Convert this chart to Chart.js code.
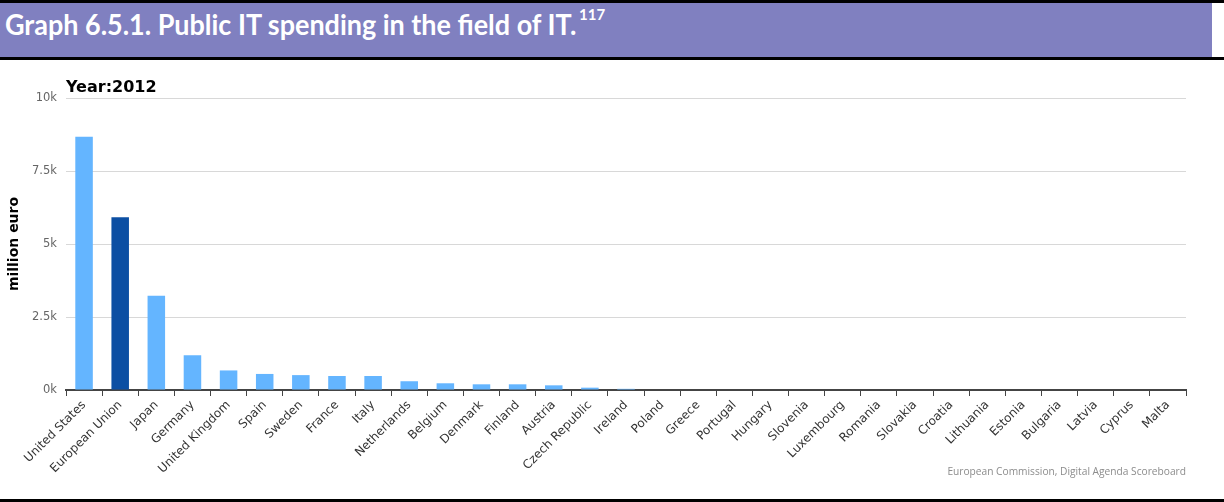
<!DOCTYPE html>
<html>
<head>
<meta charset="utf-8">
<script src="https://cdn.jsdelivr.net/npm/chart.js@4.4.1/dist/chart.umd.min.js"></script>
<style>
  html, body { margin: 0; padding: 0; background: #fff; }
  body { width: 1224px; height: 502px; position: relative; overflow: hidden; }
  #topline { position: absolute; left: 0; top: 0; width: 1224px; height: 3px; background: #000; }
  #band { position: absolute; left: 0; top: 3px; width: 1212px; height: 54px; background: #8080c0; }
  #midline { position: absolute; left: 0; top: 57px; width: 1224px; height: 3px; background: #000; }
  #bottomline { position: absolute; left: 0; top: 499px; width: 1224px; height: 3px; background: #000; }
  #heading { position: absolute; left: 5px; top: 7px; color: #fff; font: bold 28px Lato, sans-serif; white-space: nowrap; transform-origin: 0 0; }
  #note { position: absolute; left: 579px; top: 5px; color: #fff; font: bold 15px Lato, sans-serif; }
  #wrap { position: absolute; left: 0; top: 60px; width: 1224px; height: 439px; }
</style>
</head>
<body>
<div id="topline"></div>
<div id="band"></div>
<div id="midline"></div>
<div id="bottomline"></div>
<div id="heading">Graph 6.5.1. Public IT spending in the field of IT.</div>
<div id="note">117</div>
<div id="wrap"><canvas id="spending_chart"></canvas></div>
<script>
const categories = ['United States', 'European Union', 'Japan', 'Germany', 'United Kingdom', 'Spain',
  'Sweden', 'France', 'Italy', 'Netherlands', 'Belgium', 'Denmark', 'Finland', 'Austria',
  'Czech Republic', 'Ireland', 'Poland', 'Greece', 'Portugal', 'Hungary', 'Slovenia',
  'Luxembourg', 'Romania', 'Slovakia', 'Croatia', 'Lithuania', 'Estonia', 'Bulgaria',
  'Latvia', 'Cyprus', 'Malta'];
// million euro, 2012
const spending = [8670, 5920, 3230, 1190, 670, 550, 510, 480, 480, 300, 230, 195, 195, 160,
  80, 40, 0, 0, 0, 0, 0, 0, 0, 0, 0, 0, 0, 0, 0, 0, 0];
const yTicks = [0, 2500, 5000, 7500, 10000];
const yearLabel = 'Year:2012';
const creditText = 'European Commission, Digital Agenda Scoreboard';

// squeeze heading to the width of the original
const heading = document.getElementById('heading');
heading.style.transform = 'scaleX(' + (571 / heading.offsetWidth) + ')';

const extraText = {
  id: 'extraText',
  afterDraw(chart) {
    const c = chart.ctx;
    const area = chart.chartArea;
    c.save();
    c.fillStyle = '#000';
    c.font = 'bold 16px "DejaVu Sans"';
    c.textAlign = 'left';
    c.textBaseline = 'alphabetic';
    c.fillText(yearLabel, area.left, 32);
    c.fillStyle = '#8c8c8c';
    c.font = '10.2px "Open Sans"';
    c.textAlign = 'right';
    c.fillText(creditText, area.right, 415);
    c.restore();
  }
};

const light = '#64b5ff';
const dark = '#0c4fa3';

new Chart(document.getElementById('spending_chart'), {
  type: 'bar',
  data: {
    labels: categories,
    datasets: [{
      label: 'million euro',
      data: spending,
      backgroundColor: categories.map(c => c === 'European Union' ? dark : light),
      borderWidth: 0,
      categoryPercentage: 1,
      barPercentage: 0.485
    }]
  },
  plugins: [extraText],
  options: {
    responsive: true,
    maintainAspectRatio: false,
    animation: false,
    layout: { padding: { top: 38, right: 38, left: 0, bottom: 0 } },
    plugins: {
      legend: { display: false },
      tooltip: { enabled: false }
    },
    scales: {
      x: {
        afterFit(scale) { scale.height = 109; },
        border: { color: '#444', width: 2 },
        grid: { drawOnChartArea: false, drawTicks: true, tickLength: 6, color: '#444', offset: true },
        ticks: {
          autoSkip: false,
          maxRotation: 45,
          minRotation: 45,
          padding: 2,
          color: '#333',
          font: { family: '"DejaVu Sans"', size: 12 }
        }
      },
      y: {
        min: 0,
        max: 10000,
        afterFit(scale) { scale.width = 66; },
        afterBuildTicks(scale) { scale.ticks = yTicks.map(v => ({ value: v })); },
        border: { display: false },
        grid: { color: '#d8d8d8', drawTicks: false },
        ticks: {
          padding: 9,
          color: '#666',
          font: { family: '"DejaVu Sans"', size: 11.5 },
          callback: v => (v / 1000) + 'k'
        },
        title: {
          display: true,
          text: 'million euro',
          color: '#000',
          padding: { top: 6, bottom: 0 },
          font: { family: '"DejaVu Sans"', size: 14, weight: 'bold' }
        }
      }
    }
  }
});
</script>
</body>
</html>
